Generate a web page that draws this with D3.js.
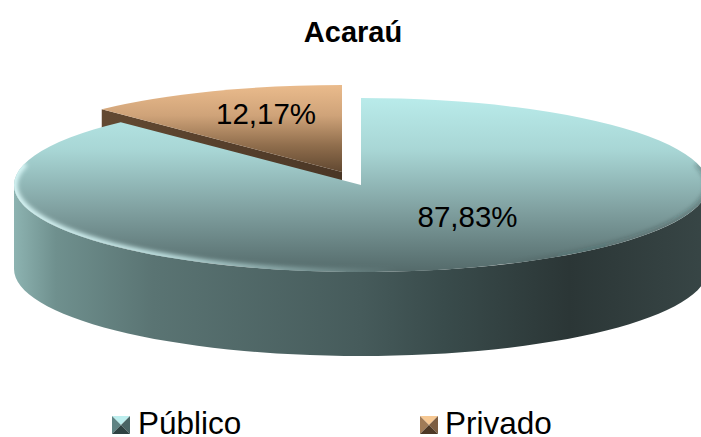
<!DOCTYPE html>
<html><head><meta charset="utf-8">
<script src="https://cdn.jsdelivr.net/npm/d3@7/dist/d3.min.js"></script>
<style>html,body{margin:0;padding:0;background:#fff}svg{display:block}text{font-family:"Liberation Sans",Arial,sans-serif;fill:#000}</style>
</head><body><div id="c"></div>
<script>
const categories = ["Público", "Privado"];
const values = [87.83, 12.17];
const labels = ["87,83%", "12,17%"];
const title = "Acaraú";

const W = 701, H = 437;
const rx = 347, ry = 87, depth = 84;
const centers = [{x:361,y:185},{x:342,y:172}];
const labelPos = [{x:467.5,y:227},{x:266,y:124}];
const topStops = [
  [{o:0,c:"#b9ebea"},{o:.3,c:"#a8d6d5"},{o:.65,c:"#7f9f9f"},{o:1,c:"#546a6a"}],
  [{o:0,c:"#eabb8c"},{o:.35,c:"#cfa379"},{o:.7,c:"#8f6d4c"},{o:1,c:"#614831"}]
];
const sideStops = [
  [{o:0,c:"#8db3b1"},{o:.06,c:"#6f908e"},{o:.2,c:"#5a7473"},{o:.5,c:"#465b5b"},{o:.62,c:"#394b4b"},{o:.8,c:"#2b3636"},{o:1,c:"#384646"}],
  [{o:0,c:"#6e5238"},{o:.5,c:"#4a3625"},{o:1,c:"#33241a"}]
];
const markerColors = [
  {t:"#bdeeee",l:"#5f8383",r:"#4a6565",b:"#2f4242"},
  {t:"#f6c893",l:"#a07b57",r:"#7d5e42",b:"#4d3825"}
];

const svg = d3.select("#c").append("svg").attr("width",W).attr("height",H).attr("viewBox",`0 0 ${W} ${H}`);
const defs = svg.append("defs");
const grad = (id,stops,a) => {
  const g = defs.append("linearGradient").attr("id",id).attr("gradientUnits","userSpaceOnUse")
    .attr("x1",a[0]).attr("y1",a[1]).attr("x2",a[2]).attr("y2",a[3]);
  g.selectAll("stop").data(stops).join("stop").attr("offset",d=>d.o).attr("stop-color",d=>d.c).attr("stop-opacity",d=>d.a==null?1:d.a);
};
const pie = d3.pie().sort(null).value(d=>d);
const arcs = pie(values);
const arcGen = d3.arc().innerRadius(0).outerRadius(rx);
const px = (c,a)=>c.x+rx*Math.sin(a), py=(c,a)=>c.y-ry*Math.cos(a);

grad("top0",topStops[0],[0,-rx,0,rx]);
grad("top1",topStops[1],[0,-rx,0,0]);
centers.forEach((c,i)=>grad("side"+i,sideStops[i],[c.x-rx,0,c.x+rx,0]));
grad("rim",[{o:0,c:"#d8f6f6",a:1},{o:.22,c:"#cdf0f0",a:.85},{o:.42,c:"#c2eaea",a:.35},{o:.55,c:"#c2eaea",a:0},{o:.7,c:"#1e2a2a",a:0},{o:1,c:"#1e2a2a",a:.3}],[centers[0].x-rx,0,centers[0].x+rx,0]);
defs.append("filter").attr("id","blur").attr("x","-5%").attr("y","-10%").attr("width","110%").attr("height","120%")
  .append("feGaussianBlur").attr("stdDeviation",2.2);

function wall(c,a0,a1){
  const p=d3.path(), n=64;
  d3.range(n+1).forEach(k=>{const a=a0+(a1-a0)*k/n; k?p.lineTo(px(c,a),py(c,a)):p.moveTo(px(c,a),py(c,a));});
  d3.range(n,-1,-1).forEach(k=>{const a=a0+(a1-a0)*k/n; p.lineTo(px(c,a),py(c,a)+depth);});
  p.closePath(); return p.toString();
}
function cutWall(c,a){
  const p=d3.path();
  p.moveTo(c.x,c.y);p.lineTo(px(c,a),py(c,a));p.lineTo(px(c,a),py(c,a)+depth);p.lineTo(c.x,c.y+depth);p.closePath();
  return p.toString();
}
const topTf = c=>`translate(${c.x},${c.y}) scale(1,${ry/rx})`;

const c1 = centers[1], a1 = arcs[1];
svg.append("path").attr("d",cutWall(c1,a1.startAngle)).attr("fill","url(#side1)");
svg.append("path").attr("d",arcGen(a1)).attr("transform",topTf(c1)).attr("fill","url(#top1)");
const c0 = centers[0], a0 = arcs[0];
svg.append("path").attr("d",wall(c0,Math.PI/2,3*Math.PI/2)).attr("fill","url(#side0)");
svg.append("path").attr("d",arcGen(a0)).attr("transform",topTf(c0)).attr("fill","url(#top0)");
defs.append("clipPath").attr("id","clip0").append("path").attr("d",arcGen(a0)).attr("transform",topTf(c0));
const rimPath = d3.path();
d3.range(0,65).forEach(k=>{const a=Math.PI*0.42+Math.PI*1.16*k/64; k?rimPath.lineTo(px(c0,a),py(c0,a)):rimPath.moveTo(px(c0,a),py(c0,a));});
svg.append("g").attr("clip-path","url(#clip0)").append("path").attr("d",rimPath.toString()).attr("fill","none").attr("stroke","url(#rim)").attr("stroke-width",7).attr("filter","url(#blur)");

svg.selectAll("text.lab").data(labels).join("text").attr("class","lab").attr("text-anchor","middle")
  .attr("x",(d,i)=>labelPos[i].x).attr("y",(d,i)=>labelPos[i].y).attr("font-size",29.5).text(d=>d);
svg.append("text").attr("x",353).attr("y",42).attr("text-anchor","middle").attr("font-size",29).attr("font-weight","bold").text(title);

const lx=[112,420], ly=416, ms=18, tx=[138,445];
categories.forEach((name,i)=>{
  const g=svg.append("g").attr("transform",`translate(${lx[i]},${ly})`), m=markerColors[i], s=ms;
  [["t",[[0,0],[s,0],[s/2,s/2]]],["l",[[0,0],[0,s],[s/2,s/2]]],["r",[[s,0],[s,s],[s/2,s/2]]],["b",[[0,s],[s,s],[s/2,s/2]]]]
   .forEach(([k,pts])=>g.append("polygon").attr("points",pts.join(" ")).attr("fill",m[k]));
  svg.append("text").attr("x",tx[i]).attr("y",434).attr("font-size",31.5).text(name);
});
</script></body></html>
